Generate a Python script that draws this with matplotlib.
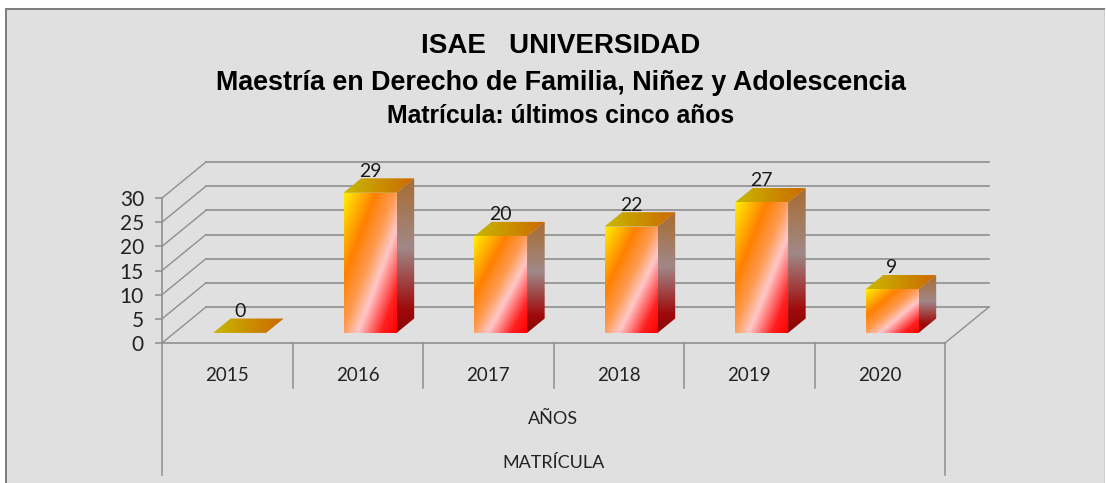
import numpy as np
import matplotlib
matplotlib.use('Agg')
import matplotlib.pyplot as plt
from matplotlib.colors import LinearSegmentedColormap
from matplotlib.patches import Polygon, Rectangle

years = ['2015', '2016', '2017', '2018', '2019', '2020']
matricula = [0, 29, 20, 22, 27, 9]
y_ticks = [0, 5, 10, 15, 20, 25, 30]
titles = ['ISAE   UNIVERSIDAD',
          'Maestría en Derecho de Familia, Niñez y Adolescencia',
          'Matrícula: últimos cinco años']

W, H = 1106, 483
LINE = '#8f8f8f'
BG = '#e0e0e0'
SANS = ['Lato', 'DejaVu Sans']

# plot box in pixels (front of the floor)
LEFT, RIGHT, FLOOR, TOP = 162, 945, 343, 198
PX_X = (RIGHT - LEFT) / 6
PX_Y = (FLOOR - TOP) / 30
DEPTH_X = 44 / PX_X
DEPTH_Y = 36 / PX_Y
BAR_W = 53 / PX_X
D_FRONT, D_BACK = 0.28, 0.68

front_cmap = LinearSegmentedColormap.from_list('front', [
    (0.0, '#fff000'), (0.30, '#ff8000'), (0.48, '#ff9a50'),
    (0.63, '#ffc8c8'), (0.85, '#ff2020'), (1.0, '#ff0000')])
side_cmap = LinearSegmentedColormap.from_list('side', [
    (0.0, '#a86c30'), (0.45, '#a08888'), (0.85, '#a00808'), (1.0, '#880808')])
top_cmap = LinearSegmentedColormap.from_list('top', ['#c8b800', '#cc6800'])


def proj(cat, val, depth):
    return cat + depth * DEPTH_X, val + depth * DEPTH_Y


def gradient_face(ax, pts, cmap, wx, wy):
    pts = np.array(pts)
    x0, y0 = pts.min(axis=0)
    x1, y1 = pts.max(axis=0)
    u, v = np.meshgrid(np.linspace(0, 1, 128), np.linspace(0, 1, 256))
    im = ax.imshow(wx * u + wy * v, cmap=cmap, vmin=0, vmax=1, origin='upper',
                   extent=(x0, x1, y0, y1), aspect='auto', zorder=3,
                   interpolation='bilinear')
    im.set_clip_box(ax.figure.bbox)
    im.set_clip_path(Polygon(pts, closed=True, transform=ax.transData))


def draw_bar(ax, i, val):
    x0 = i + 0.5 - BAR_W / 2
    x1 = x0 + BAR_W
    fl, fh = proj(x0, 0, D_FRONT), proj(x0, val, D_FRONT)
    rl, rh = proj(x1, 0, D_FRONT), proj(x1, val, D_FRONT)
    bfl, bfh = proj(x0, val, D_BACK), proj(x1, val, D_BACK)
    brl = proj(x1, 0, D_BACK)
    if val > 0:
        gradient_face(ax, [fl, rl, rh, fh], front_cmap, 0.5, 0.5)
        gradient_face(ax, [rl, brl, bfh, rh], side_cmap, 0.0, 1.0)
    gradient_face(ax, [fh, rh, bfh, bfl], top_cmap, 1.0, 0.0)
    ax.annotate(str(val), (fh[0] + BAR_W / 2, fh[1]), xytext=(0, 15.5),
                textcoords='offset points', ha='center', va='center',
                fontsize=14, color='#1a1a1a', family=SANS, zorder=5,
                annotation_clip=False)


def main():
    fig = plt.figure(figsize=(W / 100, H / 100), dpi=100, facecolor='white')
    fig.add_artist(Rectangle((6 / W, 0), 1098 / W, 1 - 9 / H, facecolor=BG, zorder=-3,
                             edgecolor='none', transform=fig.transFigure))
    fig.add_artist(Rectangle((5 / W, 0), 2 / W, 1 - 8 / H, facecolor='#7f7f7f', zorder=-2,
                             edgecolor='none', transform=fig.transFigure))
    fig.add_artist(Rectangle((5 / W, 1 - 10 / H), 1100 / W, 2 / H, facecolor='#7f7f7f', zorder=-2,
                             edgecolor='none', transform=fig.transFigure))
    fig.add_artist(Rectangle((1104 / W, 0), 1 / W, 1 - 10 / H, facecolor='#cfcfcf', zorder=-2,
                             edgecolor='none', transform=fig.transFigure))

    ax = fig.add_axes([LEFT / W, 1 - FLOOR / H, (RIGHT - LEFT) / W, (FLOOR - TOP) / H])
    ax.patch.set_visible(False)

    # back wall and side wall grid
    for v in y_ticks:
        bx, by = proj(0, v, 1)
        ex, _ = proj(6, v, 1)
        ax.plot([bx, ex], [by, by], color=LINE, lw=1.2, clip_on=False, zorder=1)
        ax.plot([0, bx], [v, by], color=LINE, lw=1.0, clip_on=False, zorder=1)
    ex, ey = proj(6, 0, 1)
    ax.plot([6, ex], [0, ey], color=LINE, lw=1.0, clip_on=False, zorder=1)

    for i, val in enumerate(matricula):
        draw_bar(ax, i, val)

    # multi level category axis
    for c in range(1, 6):
        ax.plot([c, c], [0, -45 / PX_Y], color=LINE, lw=1.1, clip_on=False, zorder=1)
    for c in [0, 6]:
        ax.plot([c, c], [0, -132 / PX_Y], color=LINE, lw=1.1, clip_on=False, zorder=1)

    ax.set_xlim(0, 6)
    ax.set_ylim(0, 30)
    ax.set_xticks(np.arange(6) + 0.5, years, family=SANS, fontsize=13.5, color='#222222')
    ax.set_yticks(y_ticks, [str(t) for t in y_ticks], family=SANS, fontsize=15, color='#222222')
    ax.tick_params(axis='x', length=0, pad=17)
    ax.tick_params(axis='y', length=5, width=1.1, color=LINE, pad=8)
    for s in ['top', 'right']:
        ax.spines[s].set_visible(False)
    for s in ['left', 'bottom']:
        ax.spines[s].set_color(LINE)
        ax.spines[s].set_linewidth(1.2)

    ax.text(3, -76 / PX_Y, 'AÑOS', ha='center', va='center', family=SANS, fontsize=13, color='#222222')
    ax.text(3, -120 / PX_Y, 'MATRÍCULA', ha='center', va='center', family=SANS, fontsize=13, color='#222222')

    title_font = ['Liberation Sans', 'DejaVu Sans']
    fig.text(561 / W, 1 - 46 / H, titles[0], ha='center', va='center', family=title_font,
             fontweight='bold', fontsize=20, color='black')
    fig.text(561 / W, 1 - 83 / H, titles[1], ha='center', va='center', family=title_font,
             fontweight='bold', fontsize=19.4, color='black')
    fig.text(561 / W, 1 - 116 / H, titles[2], ha='center', va='center', family=title_font,
             fontweight='bold', fontsize=17.8, color='black')

    fig.savefig('out.png', dpi=100)


if __name__ == "__main__":
    main()
